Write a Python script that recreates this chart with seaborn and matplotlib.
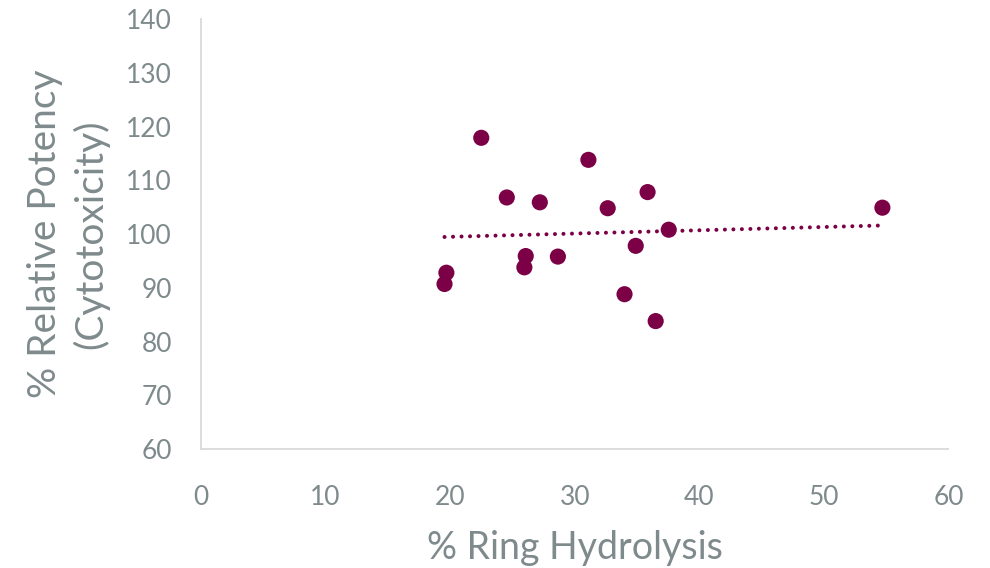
import matplotlib

matplotlib.use("Agg")

import matplotlib.pyplot as plt
import pandas as pd
import seaborn as sns

# % ring hydrolysis vs % relative potency (cytotoxicity)
ring_hydrolysis = [19.55, 19.7, 22.5, 24.55, 25.96, 26.07, 27.2, 28.65,
                   31.1, 32.65, 34.0, 34.9, 35.85, 36.5, 37.55, 54.7]
relative_potency = [90.7, 92.8, 117.9, 106.8, 93.8, 95.9, 105.9, 95.8,
                    113.8, 104.8, 88.8, 97.8, 107.8, 83.8, 100.8, 104.9]
x_ticks = [0, 10, 20, 30, 40, 50, 60]
y_ticks = [60, 70, 80, 90, 100, 110, 120, 130, 140]

MARKER = "#7B0046"
TEXT = "#7F8A8C"
AXIS = "#D9D9D9"

df = pd.DataFrame({"hydrolysis": ring_hydrolysis, "potency": relative_potency})

sns.set_theme(style="white")
plt.rcParams["font.family"] = ["Lato", "DejaVu Sans"]

fig = plt.figure(figsize=(9.9, 5.68), dpi=100)
ax = fig.add_axes([0.203, 0.2095, 0.755, 0.757])

# linear trendline over the data range, drawn dotted
sns.regplot(data=df, x="hydrolysis", y="potency", ax=ax, scatter=False, ci=None,
            line_kws={"color": MARKER, "lw": 2.9, "linestyle": (0, (0.01, 2.1)),
                      "dash_capstyle": "round"})
sns.scatterplot(data=df, x="hydrolysis", y="potency", ax=ax, color=MARKER,
                s=135, edgecolor="none", zorder=3)

ax.set_xlim(0, 60)
ax.set_ylim(60, 140)
ax.set_xticks(x_ticks)
ax.set_yticks(y_ticks)
ax.tick_params(length=0, labelsize=19, colors=TEXT)
ax.tick_params(axis="y", pad=21)
ax.tick_params(axis="x", pad=26)

for side in ["top", "right"]:
    ax.spines[side].set_visible(False)
for side in ["left", "bottom"]:
    ax.spines[side].set_color(AXIS)
    ax.spines[side].set_linewidth(1.3)

ax.set_xlabel("% Ring Hydrolysis", fontsize=27, color=TEXT, labelpad=14)
ax.set_ylabel("% Relative Potency\n(Cytotoxicity)", fontsize=28, color=TEXT,
              labelpad=12, linespacing=1.3)

fig.savefig("out.png", dpi=100)
